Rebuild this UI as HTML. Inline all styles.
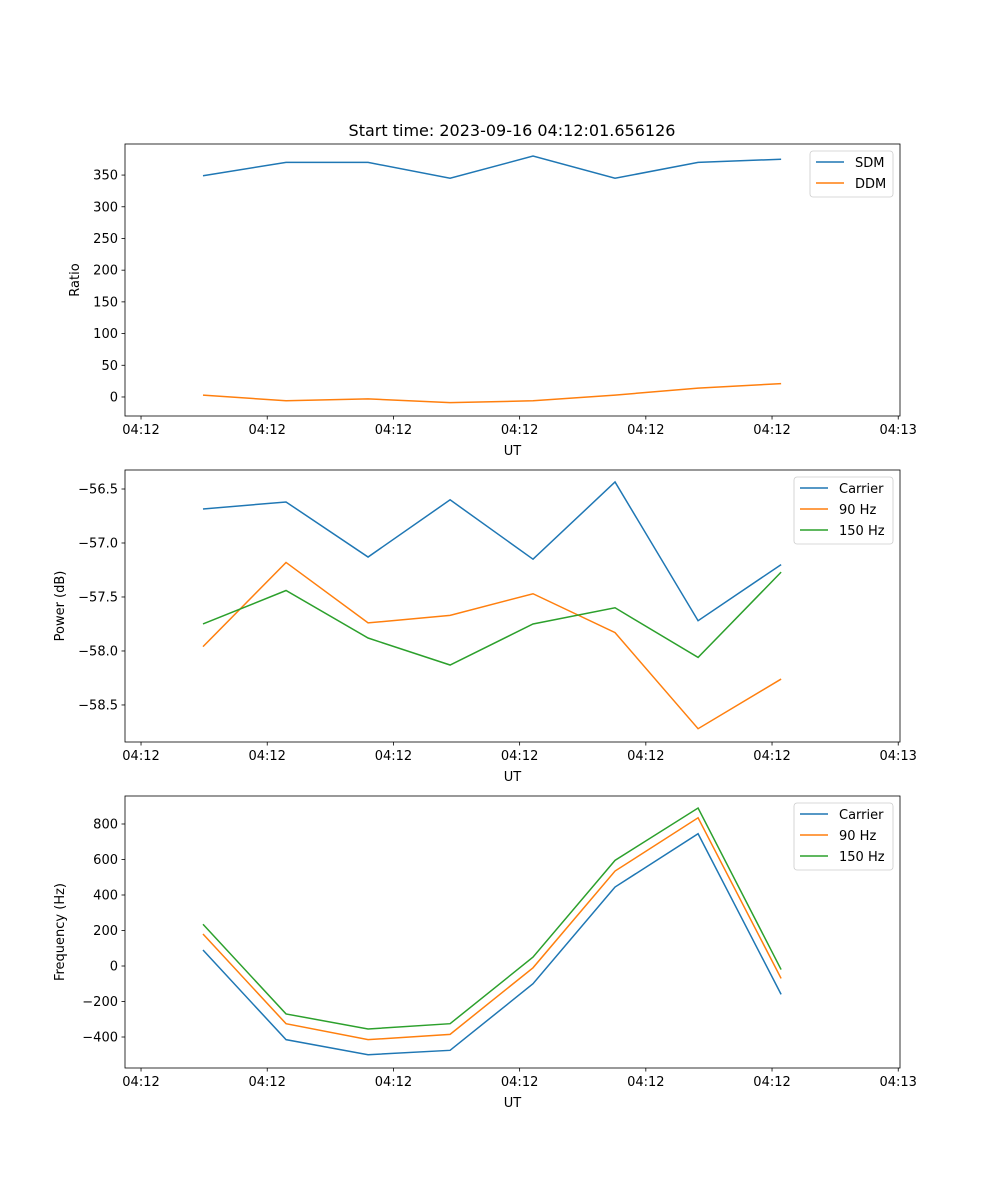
<!DOCTYPE html>
<html><head><meta charset="utf-8"><style>
body{margin:0;background:#fff}
svg{display:block;font-family:"DejaVu Sans","Liberation Sans",sans-serif}
</style></head><body>
<svg id="fig" width="1000" height="1200" xmlns="http://www.w3.org/2000/svg">
<rect width="1000" height="1200" fill="#fff"/>
<text x="512" y="136" text-anchor="middle" font-size="16">Start time: 2023-09-16 04:12:01.656126</text>
</svg>
<script>
// shared time axis (seconds after 04:12:00)
const times = [4.91, 11.49, 17.99, 24.49, 31.06, 37.56, 44.14, 50.72];
const xTicks = [0, 10, 20, 30, 40, 50, 60];
const xTickLabels = ['04:12','04:12','04:12','04:12','04:12','04:12','04:13'];
// panel 1
const sdm = [349, 370, 370, 345, 380, 345, 370, 375];
const ddm = [3, -6, -3, -9, -6, 3, 14, 21];
const ratioTicks = [0, 50, 100, 150, 200, 250, 300, 350];
// panel 2
const powCarrier = [-56.685, -56.62, -57.13, -56.60, -57.15, -56.435, -57.72, -57.20];
const pow90 = [-57.96, -57.18, -57.74, -57.67, -57.47, -57.83, -58.72, -58.26];
const pow150 = [-57.75, -57.44, -57.88, -58.13, -57.75, -57.60, -58.06, -57.27];
const powTicks = [-58.5, -58.0, -57.5, -57.0, -56.5];
// panel 3
const freqCarrier = [90, -415, -500, -475, -100, 445, 745, -160];
const freq90 = [180, -325, -415, -385, -10, 535, 835, -70];
const freq150 = [235, -270, -355, -325, 50, 595, 890, -20];
const freqTicks = [-400, -200, 0, 200, 400, 600, 800];

const NS='http://www.w3.org/2000/svg';
const svg=document.getElementById('fig');
function mk(tag,attrs,parent){const e=document.createElementNS(NS,tag);for(const k in attrs)e.setAttribute(k,attrs[k]);(parent||svg).appendChild(e);return e;}
const L=125,R=900;
const xMin=-1.27,xMax=60.14;
const xs=v=>L+(v-xMin)/(xMax-xMin)*(R-L);

function panel(name,top,bot,yMin,yMax,yTicks,fmt,ylabel,series,legend){
  const g=mk('g',{});
  
  
  const ys=v=>bot-(v-yMin)/(yMax-yMin)*(bot-top);
  xTicks.forEach((t,i)=>{
    const x=xs(t);
    mk('line',{x1:x,x2:x,y1:bot,y2:bot+3.5,stroke:'#000','stroke-width':0.8},g);
    const tx=mk('text',{x:x,y:bot+18,'text-anchor':'middle','font-size':13},g);
    
    
    tx.textContent=xTickLabels[i];
  });
  yTicks.forEach(t=>{
    const y=ys(t);
    mk('line',{x1:L-3.5,x2:L,y1:y,y2:y,stroke:'#000','stroke-width':0.8},g);
    const tx=mk('text',{x:L-7,y:y+4.5,'text-anchor':'end','font-size':13},g);
    
    
    tx.textContent=fmt(t);
  });
  const xl=mk('text',{x:(L+R)/2,y:bot+39,'text-anchor':'middle','font-size':13},g);
  
  
  xl.textContent='UT';
  const yx=L-(name==='ratio'?46:61);
  const yl=mk('text',{x:yx,y:(top+bot)/2,'text-anchor':'middle','font-size':13,transform:`rotate(-90 ${yx} ${(top+bot)/2})`},g);
  
  
  yl.textContent=ylabel;
  series.forEach(s=>{
    const p=mk('polyline',{points:s.data.map((v,i)=>xs(times[i])+','+ys(v)).join(' '),fill:'none',stroke:s.color,'stroke-width':1.5},g);
    
    
  });
  const fr=mk('rect',{x:L,y:top,width:R-L,height:bot-top,fill:'none',stroke:'#000','stroke-width':0.8},g);
  
  
  const lg=mk('g',{},g);
  
  
  mk('rect',{x:legend.x,y:top+7,width:R-7-legend.x,height:series.length*21+4,rx:3,fill:'#fff','fill-opacity':0.8,stroke:'#ccc','stroke-width':0.8},lg);
  series.forEach((s,i)=>{
    const y=top+18+i*21;
    mk('line',{x1:legend.x+6,x2:legend.x+34,y1:y,y2:y,stroke:s.color,'stroke-width':1.5},lg);
    const t=mk('text',{x:legend.x+45,y:y+5,'font-size':13},lg);
    
    
    t.textContent=s.label;
  });
}
const B='#1f77b4',O='#ff7f0e',G='#2ca02c';
panel('ratio',144,416,-30,399,ratioTicks,v=>String(v),'Ratio',
  [{label:'SDM',data:sdm,color:B},{label:'DDM',data:ddm,color:O}],{x:810});
panel('power',470,742,-58.843,-56.324,powTicks,v=>(v<0?'\u2212':'')+Math.abs(v).toFixed(1),'Power (dB)',
  [{label:'Carrier',data:powCarrier,color:B},{label:'90 Hz',data:pow90,color:O},{label:'150 Hz',data:pow150,color:G}],{x:794});
panel('frequency',796,1068,-574.6,957.7,freqTicks,v=>(v<0?'\u2212':'')+Math.abs(v),'Frequency (Hz)',
  [{label:'Carrier',data:freqCarrier,color:B},{label:'90 Hz',data:freq90,color:O},{label:'150 Hz',data:freq150,color:G}],{x:794});
</script>
</body></html>
